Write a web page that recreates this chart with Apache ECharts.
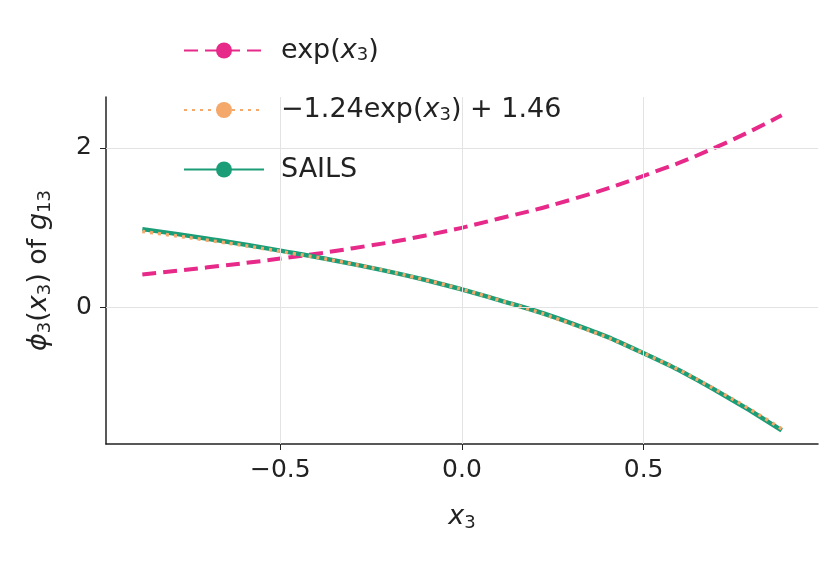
<!DOCTYPE html><html><head><meta charset="utf-8">
<script src="https://cdn.jsdelivr.net/npm/echarts@6/dist/echarts.min.js"></script>
<style>html,body{margin:0;padding:0;background:#fff}#c{width:837px;height:562px}</style></head><body><div id="c"></div>
<script>
const xs = [-0.88,-0.7,-0.5,-0.3,-0.1,0.1,0.3,0.5,0.7,0.88];
const expVals = [0.41,0.50,0.61,0.74,0.90,1.11,1.35,1.65,2.01,2.41];
const fitVals = [0.95,0.84,0.70,0.54,0.34,0.09,-0.21,-0.58,-1.04,-1.53];
const sailsVals = [0.98,0.86,0.71,0.54,0.34,0.09,-0.20,-0.58,-1.05,-1.55];
const xTicks = [-0.5,0.0,0.5];
const yTicks = [0,2];
const names = ['exp','fit','SAILS'];
const F = 'DejaVu Sans';
const pair = v => xs.map((x,i)=>[x,v[i]]);
const chart = echarts.init(document.getElementById('c'));
chart.setOption({
  animation:false,
  grid:{left:106,right:19,top:97,bottom:118},
  legend:{orient:'vertical',left:178,top:32,itemWidth:80,itemHeight:20,itemGap:32,
    textStyle:{fontFamily:F,fontSize:27,color:'#222',padding:[0,0,0,12],rich:{i:{fontStyle:'italic',fontSize:27,fontFamily:F},s:{fontSize:18,verticalAlign:'bottom',padding:[10,0,0,0],fontFamily:F}}},
    formatter:n=>n==='exp'?'exp({i|x}{s|3})':n==='fit'?'−1.24exp({i|x}{s|3}) + 1.46':'SAILS',
    data:names},
  xAxis:{type:'value',min:-0.98,max:0.98,
    axisLine:{onZero:false,lineStyle:{color:'#222',width:1.5}},
    axisTick:{customValues:xTicks,length:6,lineStyle:{color:'#222'}},
    axisLabel:{customValues:xTicks,formatter:v=>(v<0?'−':'')+Math.abs(v).toFixed(1),fontFamily:F,fontSize:25,color:'#222',margin:14},
    splitLine:{show:false},
    name:'{i|x}{s|3}',nameLocation:'middle',nameGap:58,
    nameTextStyle:{rich:{i:{fontStyle:'italic',fontSize:27,fontFamily:F,color:'#222'},s:{fontSize:18,fontFamily:F,color:'#222',padding:[12,0,0,0]}}}},
  yAxis:{type:'value',min:-1.72,max:2.64,
    axisLine:{show:true,onZero:false,lineStyle:{color:'#222',width:1.5}},
    axisTick:{show:true,customValues:yTicks,length:6,lineStyle:{color:'#222'}},
    axisLabel:{customValues:yTicks,fontFamily:F,fontSize:25,color:'#222',margin:14},
    splitLine:{show:false},
    name:'{i|ϕ}{s|3}({i|x}{s|3}) of {i|g}{s|13}',nameLocation:'middle',nameGap:52,
    nameTextStyle:{rich:{i:{fontStyle:'italic',fontSize:27,fontFamily:F,color:'#222'},s:{fontSize:18,fontFamily:F,color:'#222',padding:[12,0,0,0]}},fontSize:27,fontFamily:F,color:'#222'}},
  series:[
    {name:'exp',type:'line',smooth:true,symbol:'none',data:pair(expVals),
      lineStyle:{color:'#e7298a',width:4,type:[14,7]},itemStyle:{color:'#e7298a'},z:3,
      markLine:{silent:true,symbol:'none',label:{show:false},lineStyle:{color:'#e3e3e3',width:1,type:'solid'},
        data:xTicks.map(v=>({xAxis:v})).concat(yTicks.map(v=>({yAxis:v})))}},
    {name:'fit',type:'line',smooth:true,symbol:'none',data:pair(fitVals),
      lineStyle:{color:'#f4a86a',width:3.5,type:[3,5]},itemStyle:{color:'#f4a86a'},z:4},
    {name:'SAILS',type:'line',smooth:true,symbol:'none',data:pair(sailsVals),
      lineStyle:{color:'#1b9e77',width:4.5},itemStyle:{color:'#1b9e77'},z:3}
  ]
});
</script></body></html>
